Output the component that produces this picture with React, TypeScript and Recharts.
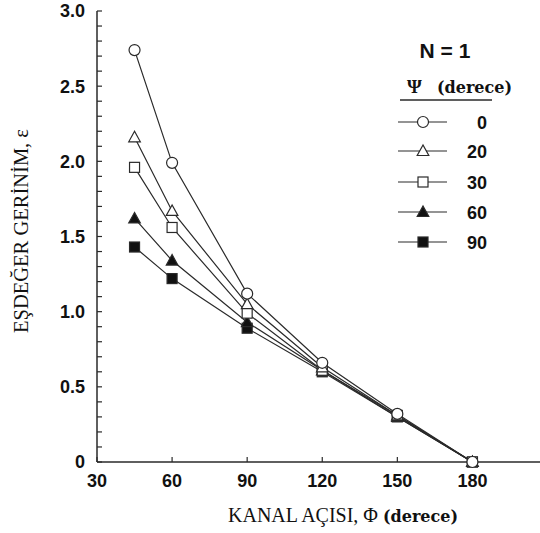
import React from 'react';
import { LineChart, Line, XAxis, YAxis, Legend } from 'recharts';

const phi = [45, 60, 90, 120, 150, 180];
const psi0 = [2.74, 1.99, 1.12, 0.66, 0.32, 0];
const psi20 = [2.16, 1.67, 1.05, 0.63, 0.31, 0];
const psi30 = [1.96, 1.56, 0.99, 0.61, 0.31, 0];
const psi60 = [1.62, 1.34, 0.93, 0.61, 0.3, 0];
const psi90 = [1.43, 1.22, 0.89, 0.6, 0.3, 0];

const xTicks = [30, 60, 90, 120, 150, 180];
const yTicks = [
  0, 0.1, 0.2, 0.3, 0.4, 0.5, 0.6, 0.7, 0.8, 0.9, 1.0, 1.1, 1.2, 1.3, 1.4, 1.5,
  1.6, 1.7, 1.8, 1.9, 2.0, 2.1, 2.2, 2.3, 2.4, 2.5, 2.6, 2.7, 2.8, 2.9, 3.0,
];

type Shape = 'circle' | 'triangle' | 'square';
const seriesDefs: { key: string; name: string; shape: Shape; filled: boolean }[] = [
  { key: 'p90', name: '90', shape: 'square', filled: true },
  { key: 'p60', name: '60', shape: 'triangle', filled: true },
  { key: 'p30', name: '30', shape: 'square', filled: false },
  { key: 'p20', name: '20', shape: 'triangle', filled: false },
  { key: 'p0', name: '0', shape: 'circle', filled: false },
];
const legendOrder = ['p0', 'p20', 'p30', 'p60', 'p90'];

const data = phi.map((p, i) => ({
  phi: p,
  p0: psi0[i],
  p20: psi20[i],
  p30: psi30[i],
  p60: psi60[i],
  p90: psi90[i],
}));

const INK = '#2a2a2a';

function Marker({ cx, cy, shape, filled }: { cx: number; cy: number; shape: Shape; filled: boolean }) {
  const fill = filled ? '#111' : '#fff';
  const common = { fill, stroke: INK, strokeWidth: 1.2 };
  if (shape === 'circle') return <circle cx={cx} cy={cy} r={5.5} {...common} />;
  if (shape === 'square') return <rect x={cx - 5} y={cy - 5} width={10} height={10} {...common} />;
  return (
    <polygon
      points={`${cx},${cy - 6} ${cx - 5.8},${cy + 4.5} ${cx + 5.8},${cy + 4.5}`}
      {...common}
    />
  );
}

const rowY = [92, 121, 152, 182, 212];

function LegendBox() {
  return (
    <svg width={150} height={230} style={{ overflow: 'visible' }}>
      <text x={55} y={28} textAnchor="middle" fontFamily="Liberation Sans" fontWeight="bold" fontSize={21} fill="#111">
        N = 1
      </text>
      <text x={17} y={63} fontFamily="Liberation Serif" fontWeight="bold" fontSize={19} fill="#111">
        Ψ
      </text>
      <text x={47} y={63} fontFamily="DejaVu Serif" fontWeight="bold" fontSize={16} fill="#111">
        (derece)
      </text>
      <line x1={10} x2={102} y1={70} y2={70} stroke={INK} strokeWidth={1.5} />
      {legendOrder.map((k, i) => {
        const s = seriesDefs.find((d) => d.key === k)!;
        const y = rowY[i];
        return (
          <g key={k}>
            <line x1={8} x2={57} y1={y} y2={y} stroke={INK} strokeWidth={1.2} />
            <Marker cx={33} cy={y} shape={s.shape} filled={s.filled} />
            <text x={97} y={y + 6.5} textAnchor="end" fontFamily="Liberation Sans" fontWeight="bold" fontSize={18} fill="#111">
              {s.name}
            </text>
          </g>
        );
      })}
    </svg>
  );
}

const tickStyle = { fontFamily: 'Liberation Sans', fontWeight: 'bold', fontSize: 18, fill: '#111' };

export default function App() {
  return (
    <div style={{ position: 'absolute', left: 0, top: 0, width: 540, height: 533, background: '#fff' }}>
      <LineChart width={540} height={533} data={data} margin={{ top: 11, right: 0, bottom: 0, left: 0 }}>
        <XAxis
          dataKey="phi"
          type="number"
          domain={[30, 207]}
          ticks={xTicks}
          interval={0}
          allowDataOverflow
          height={71}
          tickSize={-5}
          tickMargin={17}
          tick={tickStyle}
          axisLine={{ stroke: INK, strokeWidth: 1.5 }}
          tickLine={{ stroke: INK, strokeWidth: 1.2 }}
          label={{
            content: () => (
              <text x={228} y={522} fill="#111">
                <tspan fontFamily="Liberation Serif" fontSize={20}>KANAL AÇISI, Φ </tspan>
                <tspan fontFamily="DejaVu Serif" fontWeight="bold" fontSize={16}>(derece)</tspan>
              </text>
            ),
          }}
        />
        <YAxis
          type="number"
          domain={[0, 3]}
          ticks={yTicks}
          interval={0}
          width={97}
          tickSize={-5}
          tickMargin={17}
          tick={tickStyle}
          tickFormatter={(v: number) => {
            const t = Math.round(v * 10);
            if (t % 5 !== 0) return '';
            return t === 0 ? '0' : (t / 10).toFixed(1);
          }}
          axisLine={{ stroke: INK, strokeWidth: 1.5 }}
          tickLine={{ stroke: INK, strokeWidth: 1.2 }}
          label={{
            content: () => (
              <text
                transform="translate(28,231) rotate(-90)"
                textAnchor="middle"
                fontFamily="Liberation Serif"
                fontSize={20.5}
                fill="#111"
              >
                EŞDEĞER GERİNİM, ε
              </text>
            ),
          }}
        />
        <Legend
          layout="vertical"
          align="center"
          verticalAlign="middle"
          content={() => <LegendBox />}
          wrapperStyle={{ position: 'absolute', left: 390, top: 30, width: 150, height: 230 }}
        />
        {seriesDefs.map((s) => (
          <Line
            key={s.key}
            dataKey={s.key}
            name={s.name}
            type="linear"
            stroke={INK}
            strokeWidth={1.2}
            isAnimationActive={false}
            dot={(p: any) => (
              <Marker key={`${s.key}-${p.index}`} cx={p.cx} cy={p.cy} shape={s.shape} filled={s.filled} />
            )}
            activeDot={false}
          />
        ))}
      </LineChart>
    </div>
  );
}
